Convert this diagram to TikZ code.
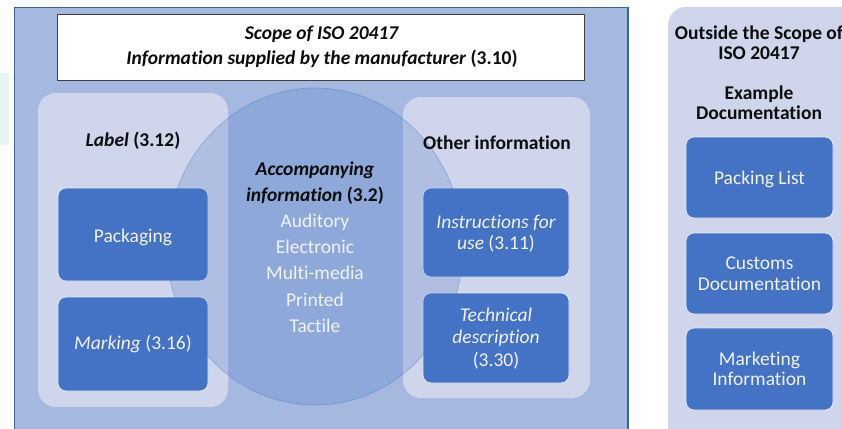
\documentclass[tikz,border=0pt]{standalone}
\usepackage{fontspec}
\setmainfont{Carlito}[Ligatures=NoCommon]
\definecolor{mainbg}{RGB}{164,184,224}
\definecolor{mainedge}{RGB}{60,96,166}
\definecolor{pale}{RGB}{207,213,234}
\definecolor{dark}{RGB}{68,114,196}
\definecolor{cyanbg}{RGB}{230,244,244}
\definecolor{txt}{RGB}{13,13,13}
\definecolor{boxwhite}{RGB}{240,243,250}
\begin{document}
\begin{tikzpicture}[x=1pt,y=-1pt,
  every node/.style={inner sep=0pt, outer sep=0pt},
  txtfont/.style={font=\fontsize{19.5}{#1}\selectfont},
  mainbox/.style={draw=mainedge, line width=1.2pt, fill=mainbg, anchor=north west},
  titlebox/.style={draw=black!75, line width=0.9pt, fill=white, anchor=north west},
  palebox/.style={fill=pale, rounded corners=18pt, anchor=north west},
  darkbox/.style={fill=dark, draw=white!85!dark, line width=0.8pt, rounded corners=8pt, anchor=north west},
  boxtext/.style={text=boxwhite, align=center},
  headtext/.style={text=txt, align=center, font=\bfseries\fontsize{19.5}{#1}\selectfont},
]
\useasboundingbox (0,0) rectangle (842,428);
\fill[white] (0,0) rectangle (842,428);
% light cyan strip at far left
\node[fill=cyanbg, minimum width=9pt, minimum height=72pt, anchor=north west] (strip) at (0,73) {};
% main scope panel
\node[mainbox, minimum width=613.5pt, minimum height=440pt] (scope) at (14.5,7.5) {};
\node[titlebox, minimum width=527pt, minimum height=66pt] (title) at (57,14) {};
% groups
\node[palebox, minimum width=190pt, minimum height=314pt] (labelgrp) at (38,93) {};
\node[palebox, minimum width=187pt, minimum height=301pt] (othergrp) at (403,97) {};
\node[palebox, minimum width=200pt, minimum height=440pt] (outgrp) at (668,7) {};
% dark boxes
\node[darkbox, minimum width=150pt, minimum height=93pt] (pack) at (58,188) {};
\node[darkbox, minimum width=150pt, minimum height=94pt] (mark) at (58,297) {};
\node[darkbox, minimum width=146pt, minimum height=89pt] (instr) at (423,188) {};
\node[darkbox, minimum width=146pt, minimum height=90pt] (tech) at (423,293) {};
\node[darkbox, minimum width=147pt, minimum height=81pt] (plist) at (686,137) {};
\node[darkbox, minimum width=147pt, minimum height=81pt] (customs) at (686,233) {};
\node[darkbox, minimum width=147pt, minimum height=82pt] (market) at (686,328) {};
% accompanying information circle
\path[fill=dark, fill opacity=0.22, draw=dark, draw opacity=0.45, line width=0.6pt]
  (315,246.5) ellipse [x radius=148pt, y radius=158.5pt];
\coordinate (acc) at (315,247);
% texts
\node[headtext=25] (titletext) at (322,46.5) {\textit{Scope of ISO 20417}\\\textit{Information supplied by the manufacturer} (3.10)};
\node[headtext=25] (labeltext) at (133,140.5) {\textit{Label} (3.12)};
\node[headtext=25] (othertext) at (497,143) {Other information};
\node[align=center, txtfont=26.2] (acctext) at (acc) {\textcolor{txt}{\bfseries\itshape Accompanying}\\\textcolor{txt}{\bfseries\textit{information} (3.2)}\\\textcolor{boxwhite}{Auditory}\\\textcolor{boxwhite}{Electronic}\\\textcolor{boxwhite}{Multi-media}\\\textcolor{boxwhite}{Printed}\\\textcolor{boxwhite}{Tactile}};
\node[boxtext, txtfont=25] at ([yshift=-2.5pt]pack.center) {Packaging};
\node[boxtext, txtfont=25] at ([yshift=-0.5pt]mark.center) {\textit{Marking} (3.16)};
\node[boxtext, txtfont=21] at ([yshift=-1pt]instr.center) {\textit{Instructions for}\\\textit{use} (3.11)};
\node[boxtext, txtfont=22.5] at ([yshift=-0.5pt]tech.center) {\textit{Technical}\\\textit{description}\\(3.30)};
\node[headtext=20] (outtext) at (759,72.5) {Outside the Scope of\\ISO 20417\\[20pt]Example\\Documentation};
\node[boxtext, txtfont=20.5] at ([yshift=-2pt]plist.center) {Packing List};
\node[boxtext, txtfont=20.5] at (customs.center) {Customs\\Documentation};
\node[boxtext, txtfont=20.5] at (market.center) {Marketing\\Information};
\end{tikzpicture}
\end{document}
